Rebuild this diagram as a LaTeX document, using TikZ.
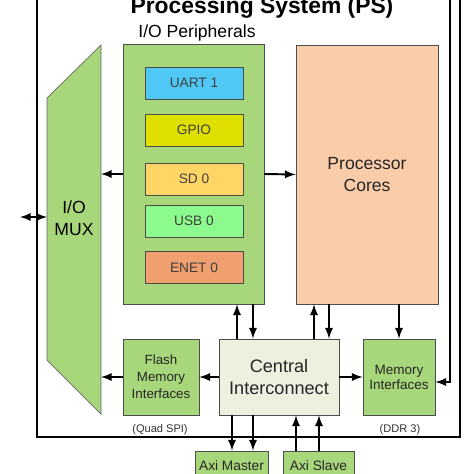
\documentclass[tikz,border=0pt]{standalone}
\usepackage{fontspec}
\setmainfont{Liberation Sans}
\usepackage{xcolor}
\usepackage{tikz}

\definecolor{blkgreen}{RGB}{168,214,122}
\definecolor{uartblue}{RGB}{80,200,245}
\definecolor{gpioyellow}{RGB}{224,224,0}
\definecolor{sdorange}{RGB}{255,214,102}
\definecolor{usbgreen}{RGB}{140,250,140}
\definecolor{enetorange}{RGB}{240,160,110}
\definecolor{corepeach}{RGB}{250,205,170}
\definecolor{centralgray}{RGB}{236,240,222}

\begin{document}
\begin{tikzpicture}[x=0.02cm, y=-0.02cm,
        box/.style={draw=black!70, fill=blkgreen, inner sep=0pt, align=center, text=black!85},
        per/.style={draw=black!70, inner sep=0pt, minimum width=19.6mm, minimum height=6.4mm, font=\fontsize{7.8}{9}\selectfont, text=black!75},
        arr/.style={-latex, line width=1.1pt}]
        \useasboundingbox (0,0) rectangle (474,474);

        % Frame of the PS
        \draw[line width=0.6pt] (37,-20) rectangle (460,437);
        \node[font=\bfseries\fontsize{13}{15}\selectfont, anchor=base] (title) at (262,13) {Processing System (PS)};

        % I/O MUX (slanted block)
        \coordinate (muxNW) at (47,98);
        \coordinate (muxNE) at (101,45);
        \coordinate (muxSE) at (101,414);
        \coordinate (muxSW) at (47,360);
        \draw[draw=black!60, fill=blkgreen] (muxNW) -- (muxNE) -- (muxSE) -- (muxSW) -- cycle;
        \node[font=\fontsize{10}{12.5}\selectfont, align=center] (mux) at (74,218) {I/O\\MUX};

        % I/O peripherals
        \node[font=\fontsize{10}{12}\selectfont] (perlbl) at (197,33) {I/O Peripherals};
        \node[box, minimum width=28.2mm, minimum height=52mm] (periph) at (193.5,174) {};
        \node[per, fill=uartblue] (uart) at (194,83) {UART 1};
        \node[per, fill=gpioyellow] (gpio) at (194,130) {GPIO};
        \node[per, fill=sdorange] (sd) at (194,179) {SD 0};
        \node[per, fill=usbgreen] (usb) at (194,221) {USB 0};
        \node[per, fill=enetorange] (enet) at (194,267.5) {ENET 0};

        % Processor cores
        \node[box, fill=corepeach, minimum width=28.4mm, minimum height=51.8mm, font=\fontsize{10}{12}\selectfont] (cores) at (367,174.5) {Processor\\Cores};

        % Bottom row
        \node[box, fill=centralgray, minimum width=24mm, minimum height=15.2mm, font=\fontsize{10.3}{13}\selectfont] (central) at (279,377) {Central\\Interconnect};
        \node[box, minimum width=15.2mm, minimum height=15.2mm, font=\fontsize{7.6}{9.6}\selectfont] (flash) at (161,377) {Flash\\Memory\\Interfaces};
        \node[box, minimum width=14.4mm, minimum height=15.2mm, font=\fontsize{7.7}{8.6}\selectfont] (memif) at (399,377) {Memory\\Interfaces};
        \node[font=\fontsize{6.3}{7}\selectfont, text=black!80] (quadspi) at (160,430) {(Quad SPI)};
        \node[font=\fontsize{6.3}{7}\selectfont, text=black!80] (ddr3) at (400,430) {(DDR 3)};

        % AXI ports
        \node[box, minimum width=14.6mm, minimum height=6mm, font=\fontsize{7.8}{9}\selectfont] (axim) at (231.5,466) {Axi Master};
        \node[box, minimum width=14.2mm, minimum height=6mm, font=\fontsize{7.8}{9}\selectfont] (axis) at (318.5,466) {Axi Slave};

        % Connections
        \coordinate (ext) at (20,217);
        \draw[latex-latex, line width=1.1pt] (ext) -- (ext -| muxNW); % external pins
        \draw[arr] (periph.west) -- (periph.west -| muxNE);
        \draw[arr] (periph.east) -- (cores.west);

        \draw[arr] (central.north -| 237,0) -- (periph.south -| 237,0);
        \draw[arr] (periph.south -| 253,0) -- (central.north -| 253,0);
        \draw[arr] (central.north -| 314,0) -- (cores.south -| 314,0);
        \draw[arr] (cores.south -| 329,0) -- (central.north -| 329,0);
        \draw[arr] (cores.south -| memif.north) -- (memif.north);

        \draw[arr] (central.west) -- (flash.east);
        \draw[arr] (flash.west) -- (flash.west -| muxNE);
        \draw[arr] (central.east) -- (memif.west);
        \coordinate (ddrin) at (450,-20);
        \draw[arr] (ddrin) |- ([yshift=-0.1cm]memif.east);

        \draw[arr] (central.south -| 232,0) -- (axim.north -| 232,0);
        \draw[arr] (central.south -| 253,0) -- (axim.north -| 253,0);
        \draw[arr] (axis.north -| 296,0) -- (central.south -| 296,0);
        \draw[arr] (axis.north -| 319,0) -- (central.south -| 319,0);
\end{tikzpicture}
\end{document}
